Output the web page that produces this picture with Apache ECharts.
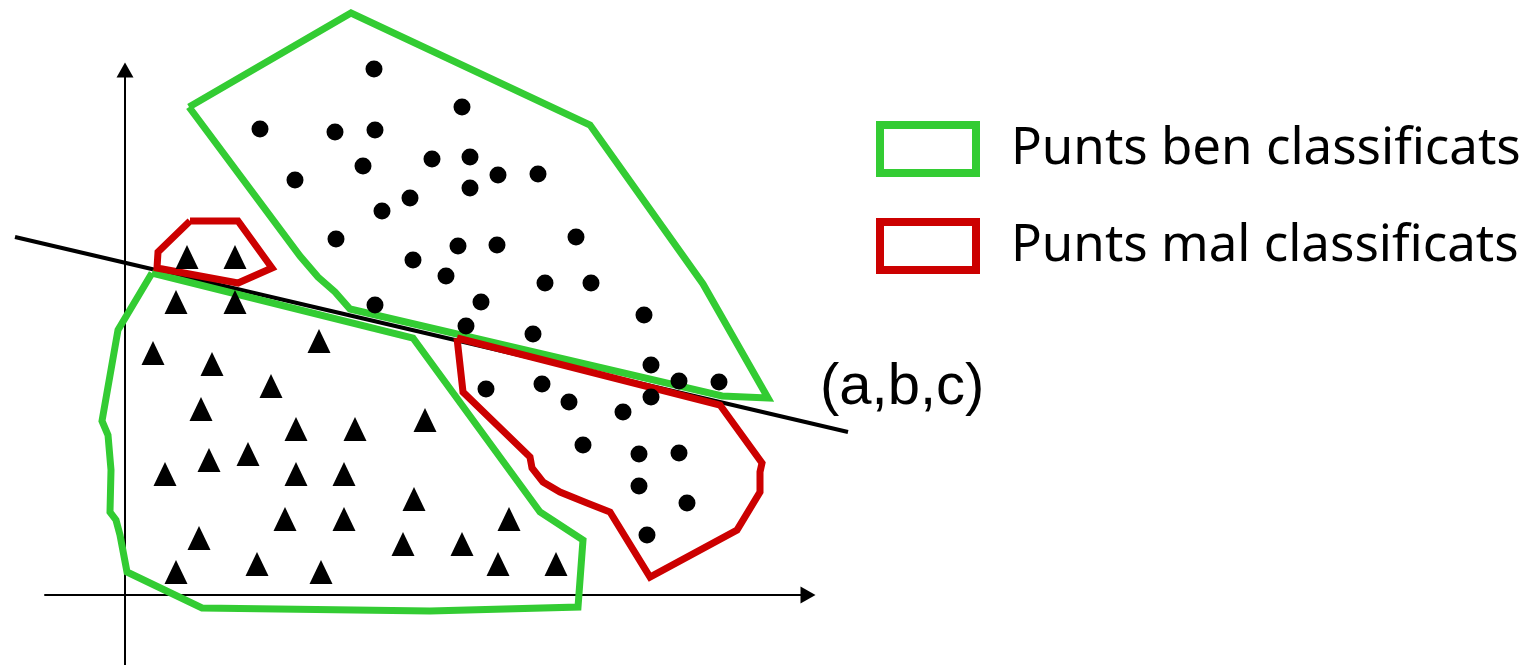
<!DOCTYPE html>
<html>
<head>
<meta charset="utf-8">
<script src="https://cdn.jsdelivr.net/npm/echarts@6/dist/echarts.min.js"></script>
<style>
  html, body { margin: 0; padding: 0; background: #fff; }
  #chart { width: 1531px; height: 665px; }
</style>
</head>
<body>
<div id="chart"></div>
<script>
// points above the line (circles), in axis units
const dotPoints = [
  [249, 526], [337, 488], [135, 466], [210, 463], [250, 465], [238, 429],
  [307, 436], [345, 438], [373, 420], [345, 407], [170, 415], [285, 397],
  [257, 384], [211, 356], [288, 335], [333, 349], [372, 350], [321, 319],
  [250, 290], [356, 293], [341, 269], [413, 421], [451, 358], [420, 312],
  [466, 312], [519, 280], [408, 261], [526, 230], [554, 214], [594, 213],
  [526, 198], [361, 206], [417, 211], [444, 193], [498, 183], [458, 150],
  [514, 141], [554, 142], [514, 109], [562, 92], [522, 60]
];

// points below the line (triangles)
const trianglePoints = [
  [62, 338], [110, 338], [51, 293], [110, 293], [194, 254], [28, 242],
  [87, 231], [146, 209], [76, 186], [171, 166], [230, 166], [300, 175],
  [40, 121], [84, 135], [123, 141], [171, 121], [219, 121], [289, 96],
  [160, 76], [219, 76], [384, 76], [74, 57], [278, 51], [337, 51],
  [51, 23], [132, 31], [196, 23], [373, 31], [431, 31]
];

// region outlines
const goodTop = [
  [64, 488], [226, 582], [465, 470], [578, 311], [643, 197], [597, 199],
  [225, 286], [210, 303], [193, 318], [175, 339], [64, 488]
];
const goodBottom = [
  [27, 322], [288, 257], [415, 83], [458, 55], [453, -12], [305, -16],
  [77, -13], [2, 23], [-5, 60], [-9, 75], [-15, 83], [-14, 125],
  [-17, 160], [-23, 174], [-7, 265], [27, 322]
];
const badSmall = [
  [65, 374], [113, 374], [147, 327], [113, 312], [32, 327], [33, 343], [65, 374]
];
const badLarge = [
  [332, 257], [595, 190], [637, 132], [635, 123], [635, 103], [612, 65],
  [525, 18], [485, 83], [462, 92], [435, 103], [418, 113], [407, 127],
  [405, 138], [338, 203], [332, 257]
];

// separating line
const boundaryLine = [[-110, 358], [723, 163]];
const boundaryLabel = "(a,b,c)";

const legendNames = ["Punts ben classificats", "Punts mal classificats"];

const GREEN = "#33cc33";
const RED = "#cc0000";

const chart = echarts.init(document.getElementById("chart"));

function outline(name, data, color) {
  return {
    name: name,
    type: "line",
    data: data,
    clip: false,
    showSymbol: false,
    silent: true,
    lineStyle: { color: color, width: 7, join: "miter" },
    itemStyle: { color: color },
    z: 3
  };
}

const plainAxis = {
  type: "value",
  axisTick: { show: false },
  axisLabel: { show: false },
  splitLine: { show: false }
};

const arrowLine = {
  show: true,
  onZero: true,
  symbol: ["none", "triangle"],
  symbolSize: [17, 15],
  lineStyle: { color: "#000", width: 2 }
};

const option = {
  backgroundColor: "#fff",
  animation: false,
  // grid 0 carries the drawn axes; grid 1 is the same scale over the whole canvas
  grid: [
    { left: 45, right: 723, top: 70, bottom: 0 },
    { left: 0, right: 0, top: 0, bottom: 0 }
  ],
  xAxis: [
    Object.assign({}, plainAxis, { gridIndex: 0, min: -80, max: 683, axisLine: arrowLine }),
    Object.assign({}, plainAxis, { gridIndex: 1, min: -125, max: 1406, show: false })
  ],
  yAxis: [
    Object.assign({}, plainAxis, { gridIndex: 0, min: -70, max: 525, axisLine: arrowLine }),
    Object.assign({}, plainAxis, { gridIndex: 1, min: -70, max: 595, show: false })
  ],
  legend: {
    orient: "vertical",
    left: 876,
    top: 121,
    padding: 0,
    itemWidth: 96,
    itemHeight: 48,
    itemGap: 41,
    selectedMode: false,
    textStyle: {
      fontFamily: "Noto Sans",
      fontSize: 51,
      lineHeight: 48,
      color: "#000",
      padding: [0, 0, 0, 30]
    },
    data: [
      { name: legendNames[0], icon: "rect", itemStyle: { color: "#fff", borderColor: GREEN, borderWidth: 8 } },
      { name: legendNames[1], icon: "rect", itemStyle: { color: "#fff", borderColor: RED, borderWidth: 8 } }
    ]
  },
  series: [
    {
      name: "boundary",
      type: "line",
      xAxisIndex: 1,
      yAxisIndex: 1,
      data: boundaryLine,
      clip: false,
      showSymbol: false,
      silent: true,
      lineStyle: { color: "#000", width: 4 },
      z: 2
    },
    {
      // label of the line, anchored at its end point
      name: "boundaryLabel",
      type: "scatter",
      xAxisIndex: 1,
      yAxisIndex: 1,
      data: [boundaryLine[1]],
      clip: false,
      symbolSize: 0,
      silent: true,
      itemStyle: { opacity: 1 },
      label: {
        show: true,
        position: "right",
        distance: 0,
        formatter: boundaryLabel,
        fontFamily: "Liberation Sans",
        fontSize: 58,
        color: "#000",
        offset: [-28, -44]
      },
      z: 2
    },
    outline(legendNames[0], goodTop, GREEN),
    outline(legendNames[0], goodBottom, GREEN),
    outline(legendNames[1], badSmall, RED),
    outline(legendNames[1], badLarge, RED),
    {
      name: "dots",
      type: "scatter",
      data: dotPoints,
      clip: false,
      symbol: "circle",
      symbolSize: 17,
      itemStyle: { color: "#000", opacity: 1 },
      z: 4
    },
    {
      name: "triangles",
      type: "scatter",
      data: trianglePoints,
      clip: false,
      symbol: "triangle",
      symbolSize: [23, 24],
      itemStyle: { color: "#000", opacity: 1 },
      z: 4
    }
  ]
};

chart.setOption(option);
</script>
</body>
</html>
